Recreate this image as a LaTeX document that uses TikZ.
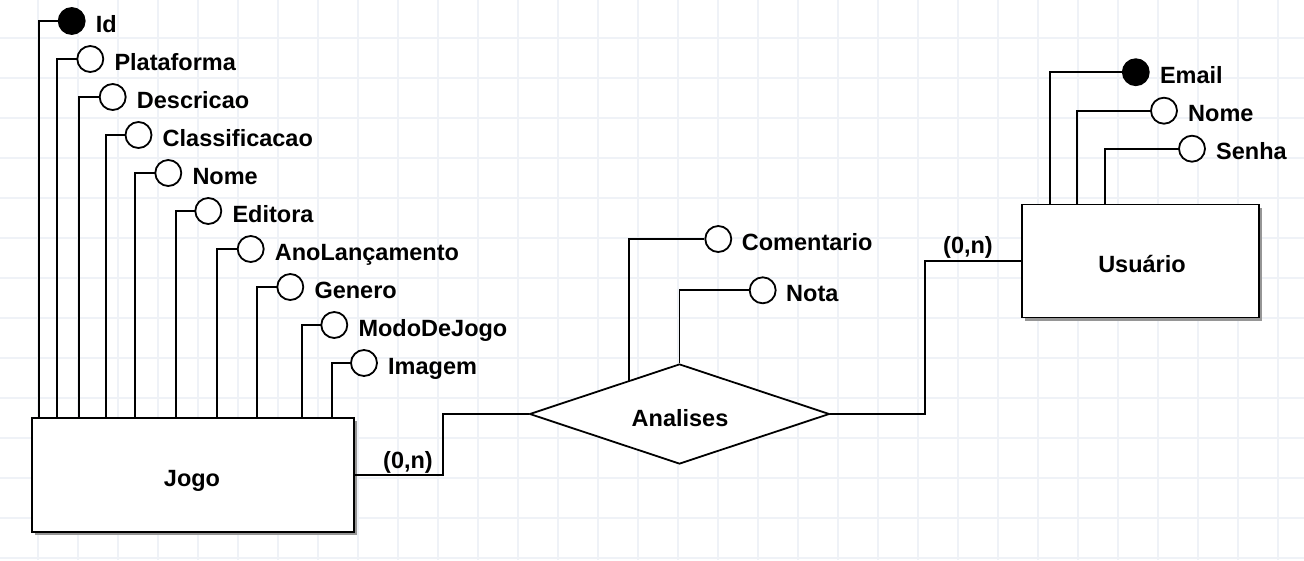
\documentclass[tikz,border=0pt]{standalone}
\usepackage{fontspec}
\setmainfont{Liberation Sans}
\usetikzlibrary{shapes.geometric}
\definecolor{gridc}{RGB}{239,242,247}
\definecolor{shadowc}{RGB}{150,150,150}
\begin{document}
\begin{tikzpicture}[x=1pt,y=-1pt,
  every node/.style={font=\fontsize{23.5}{28}\selectfont\bfseries},
  conn/.style={line width=1.8pt},
  entity/.style={draw, line width=1.8pt, fill=white, rectangle, inner sep=0,
    preaction={fill=shadowc, transform canvas={shift={(3pt,-3pt)}}}},
  attr/.style={draw, circle, line width=1.8pt, fill=white, minimum size=26pt, inner sep=0},
  keyattr/.style={attr, fill=black},
  lbl/.style={anchor=base west, inner sep=0},
  ctext/.style={anchor=base, inner sep=0}]
\useasboundingbox[fill=white] (0,0) rectangle (1304,560);
\foreach \x in {38,78,...,1278} \draw[gridc, line width=1.5pt] (\x,0) -- (\x,560);
\foreach \y in {38,78,...,558} \draw[gridc, line width=1.5pt] (0,\y) -- (1304,\y);

% entities
\node[entity, minimum width=322pt, minimum height=114pt] (jogo) at (193,475) {};
\node[ctext] (jogot) at (192,486) {Jogo};
\node[entity, minimum width=237pt, minimum height=113pt] (usu) at (1140.5,261) {};
\node[ctext] (usut) at (1142,272) {Usuário};

% relationship
\node[draw, diamond, line width=1.8pt, minimum width=300pt, minimum height=100pt,
  inner sep=0, aspect=3, fill=white] (dia) at (679.5,414) {};
\node[ctext] (diat) at (680,426) {Analises};

% Jogo attributes
\foreach \i/\cx/\cy/\lx/\t/\s in {
  a1/71.7/21/39.3/Id/keyattr,
  a2/90.3/59/57.3/Plataforma/attr,
  a3/112.7/97/79.3/Descricao/attr,
  a4/138.5/135/105.7/Classificacao/attr,
  a5/168.3/173/135.3/Nome/attr,
  a6/208.3/211/175.7/Editora/attr,
  a7/250.7/249/217.3/AnoLançamento/attr,
  a8/290.3/287/257.3/Genero/attr,
  a9/334.3/325/301.7/ModoDeJogo/attr,
  a10/364/363/331.7/Imagem/attr}{
  \coordinate (\i b) at (\lx,418);
  \draw[conn] (\i b) |- (\cx-13,\cy);
  \node[\s] (\i) at (\cx,\cy) {};
  \node[lbl] (\i t) at (\cx+24,\cy+11) {\t};
}

% Usuario attributes
\foreach \i/\cx/\cy/\lx/\t/\s in {
  u1/1135.8/72.2/1050/Email/keyattr,
  u2/1164/110.7/1077.3/Nome/attr,
  u3/1192/148.7/1105/Senha/attr}{
  \coordinate (\i b) at (\lx,204.5);
  \draw[conn] (\i b) |- (\cx-13,\cy);
  \node[\s] (\i) at (\cx,\cy) {};
  \node[lbl] (\i t) at (\cx+24,\cy+11) {\t};
}

% Analises attributes
\node[attr] (com) at (718.3,239) {};
\node[lbl] (comt) at (741.7,250) {Comentario};
\node[attr] (nota) at (762.7,290.3) {};
\node[lbl] (notat) at (786,301.3) {Nota};
\coordinate (dc) at (629.3,380.7);
\draw[conn] (dc) |- (com.west);
\draw[conn] (dia.north) |- (nota.west);

% connectors
\draw[conn] (jogo.east) -- ++(87.7,0) |- (dia.west);
\draw[conn] (usu.west) -- ++(-96.3,0) |- (dia.east);
\node[ctext] (c1) at (408,468) {(0,n)};
\node[ctext] (c2) at (968,253) {(0,n)};
\end{tikzpicture}
\end{document}
